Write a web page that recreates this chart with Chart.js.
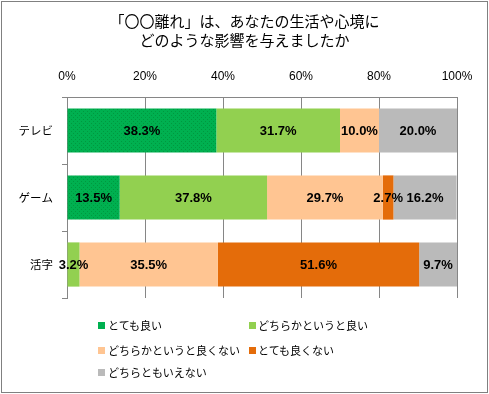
<!DOCTYPE html>
<html lang="ja">
<head>
<meta charset="utf-8">
<script src="https://cdn.jsdelivr.net/npm/chart.js@4.4.1/dist/chart.umd.min.js"></script>
<style>
  html, body { margin: 0; padding: 0; background: #fff; }
  #wrap { position: relative; width: 489px; height: 394px; }
  #frame { position: absolute; left: 1px; top: 1px; width: 487px; height: 392px; box-sizing: border-box; border: 1px solid #808080; pointer-events: none; }
  canvas { position: absolute; left: 0; top: 0; }
  #legend { position: absolute; left: 0; top: 0; width: 489px; height: 394px; pointer-events: none;
            font-family: "Noto Sans CJK JP", sans-serif; font-size: 11px; color: #000; }
  .li { position: absolute; white-space: nowrap; line-height: 14px; }
  .sw { position: absolute; width: 7px; height: 7px; }
</style>
</head>
<body>
<div id="wrap">
  <canvas id="c" width="489" height="394"></canvas>
  <div id="legend"></div>
  <div id="frame"></div>
</div>
<script>
const titleLines = ["「〇〇離れ」は、あなたの生活や心境に", "どのような影響を与えましたか"];
const categories = ["テレビ", "ゲーム", "活字"];
const seriesNames = ["とても良い", "どちらかというと良い", "どちらかというと良くない", "とても良くない", "どちらともいえない"];
const veryGood     = [38.3, 13.5, 0];
const ratherGood   = [31.7, 37.8, 3.2];
const ratherBad    = [10.0, 29.7, 35.5];
const veryBad      = [0, 2.7, 51.6];
const neither      = [20.0, 16.2, 9.7];
const xTicks = [0, 20, 40, 60, 80, 100];
const colors = ["#00B050", "#92D050", "#FFC592", "#E46C0A", "#BABABA"];

function dotPattern(base, dot) {
  const p = document.createElement('canvas');
  p.width = 4; p.height = 4;
  const g = p.getContext('2d');
  g.fillStyle = base; g.fillRect(0, 0, 4, 4);
  g.fillStyle = dot; g.fillRect(1, 1, 1, 1); g.fillRect(3, 3, 1, 1);
  return document.getElementById('c').getContext('2d').createPattern(p, 'repeat');
}

const seriesValues = [veryGood, ratherGood, ratherBad, veryBad, neither];
const datasets = seriesValues.map((vals, i) => ({
  label: seriesNames[i],
  data: vals,
  backgroundColor: i === 0 ? dotPattern(colors[0], "#00983F") : colors[i],
  borderWidth: 0,
  categoryPercentage: 0.66,
  barPercentage: 1.0
}));

const valueLabels = {
  id: 'valueLabels',
  afterDatasetsDraw(chart) {
    const ctx = chart.ctx;
    ctx.save();
    ctx.font = 'bold 13px "Liberation Sans", sans-serif';
    ctx.fillStyle = '#000';
    ctx.textAlign = 'center';
    ctx.textBaseline = 'middle';
    chart.data.datasets.forEach((ds, di) => {
      const meta = chart.getDatasetMeta(di);
      meta.data.forEach((el, j) => {
        const v = ds.data[j];
        if (!v) return;
        const p = el.getProps(['x', 'y', 'base'], true);
        ctx.fillText(v.toFixed(1) + '%', (p.x + p.base) / 2, p.y + 1);
      });
    });
    ctx.restore();
  }
};

const chart = new Chart(document.getElementById('c'), {
  type: 'bar',
  data: { labels: categories, datasets },
  options: {
    indexAxis: 'y',
    responsive: false,
    animation: false,
    devicePixelRatio: 1,
    layout: { padding: { left: 0, right: 0, top: 0, bottom: 96 } },
    plugins: {
      legend: { display: false },
      tooltip: { enabled: false },
      title: {
        display: true,
        text: titleLines,
        color: '#000',
        font: { family: '"Noto Sans CJK JP", sans-serif', size: 15, weight: 'normal', lineHeight: 19 / 15 },
        padding: { top: 12, bottom: 0 }
      }
    },
    scales: {
      x: {
        position: 'top',
        stacked: true,
        min: 0, max: 100,
        afterBuildTicks(scale) { scale.ticks = xTicks.map(v => ({ value: v })); },
        afterFit(scale) { scale.height = 47; },
        ticks: {
          padding: 13,
          color: '#000',
          font: { family: '"Liberation Sans", sans-serif', size: 12 },
          callback: v => v + '%'
        },
        grid: { color: '#868686', lineWidth: 1, drawTicks: false },
        border: { display: true, color: '#868686', width: 1 }
      },
      y: {
        stacked: true,
        afterFit(scale) { scale.width = 67; },
        ticks: {
          padding: 9,
          color: '#000',
          font: { family: '"Noto Sans CJK JP", sans-serif', size: 11.5 }
        },
        grid: { offset: true, drawOnChartArea: false, drawTicks: true, tickLength: 5, color: '#868686' },
        border: { display: true, color: '#868686', width: 1 }
      },
      // empty right-hand spacer so the plot ends at 80% width while the title stays centred on the page
      ySpacer: {
        type: 'category',
        labels: categories,
        position: 'right',
        afterFit(scale) { scale.width = 32; },
        ticks: { display: false },
        grid: { display: false, drawTicks: false },
        border: { display: false }
      }
    }
  },
  plugins: [valueLabels]
});

// HTML legend in two columns, built from the chart's datasets
const legendPos = [
  { sx: 98, tx: 108, y: 325 },
  { sx: 249, tx: 258, y: 325 },
  { sx: 98, tx: 108, y: 350 },
  { sx: 249, tx: 258, y: 350 },
  { sx: 98, tx: 108, y: 372 }
];
const legendEl = document.getElementById('legend');
chart.data.datasets.forEach((ds, i) => {
  const p = legendPos[i];
  const sw = document.createElement('div');
  sw.className = 'sw';
  sw.style.left = p.sx + 'px';
  sw.style.top = (p.y - 3.5) + 'px';
  sw.style.background = colors[i];
  legendEl.appendChild(sw);
  const t = document.createElement('div');
  t.className = 'li';
  t.style.left = p.tx + 'px';
  t.style.top = (p.y - 7) + 'px';
  t.textContent = ds.label;
  legendEl.appendChild(t);
});
</script>
</body>
</html>
